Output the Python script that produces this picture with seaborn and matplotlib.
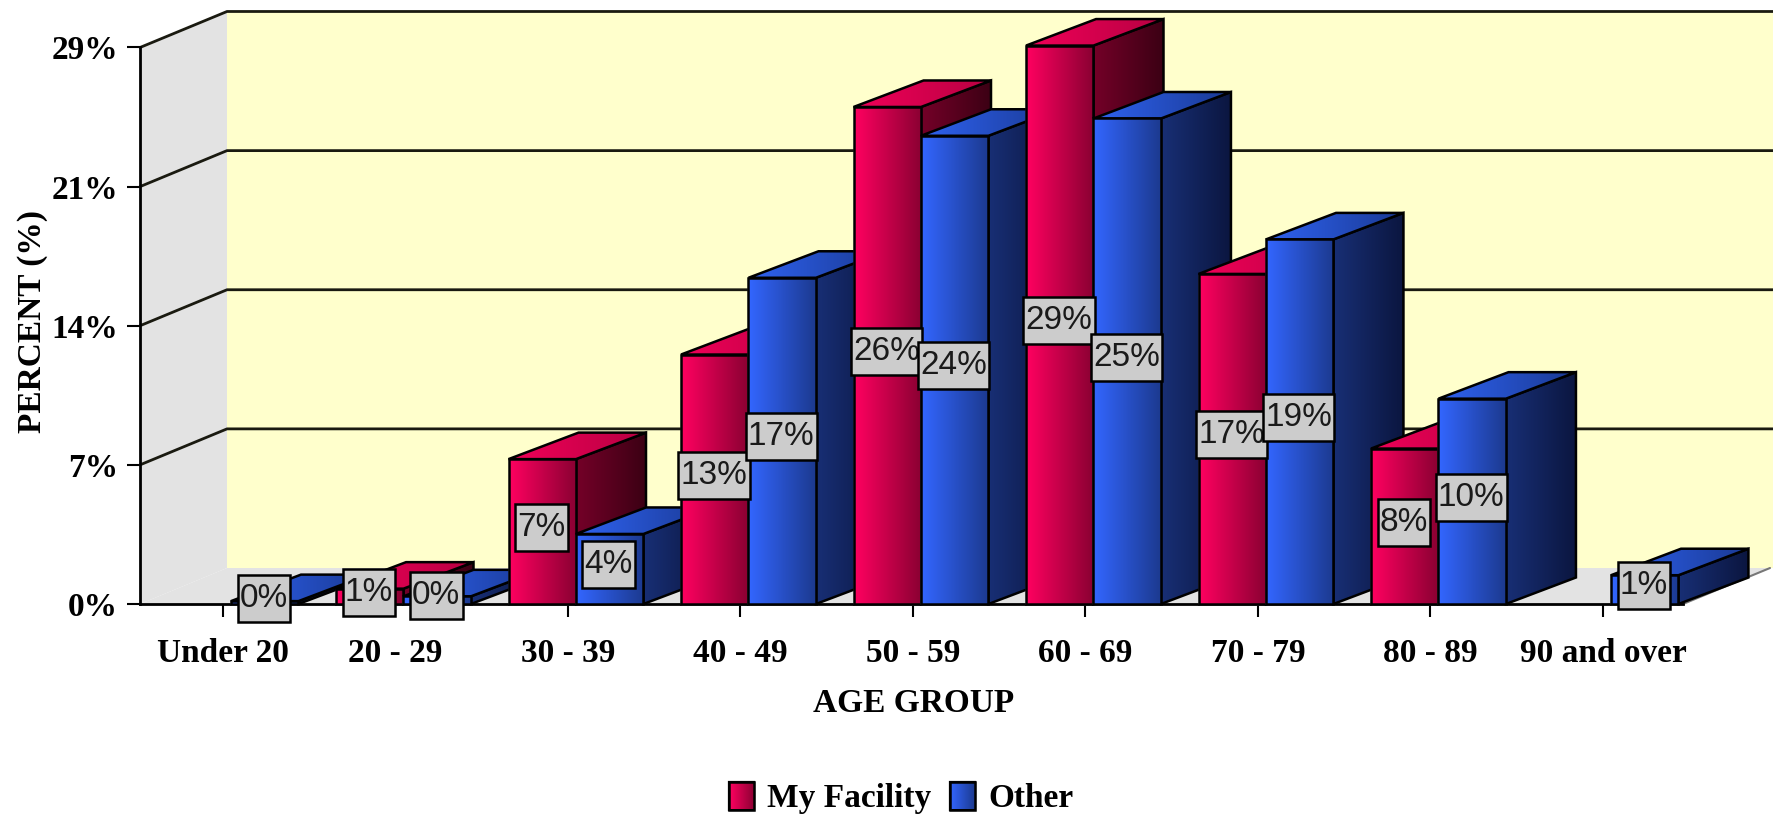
import numpy as np
import pandas as pd
import matplotlib
matplotlib.use('Agg')
import matplotlib.pyplot as plt
from matplotlib.colors import LinearSegmentedColormap
from matplotlib.patches import Patch, Polygon
from matplotlib.path import Path
import seaborn as sns

age_groups = ['Under 20', '20 - 29', '30 - 39', '40 - 49', '50 - 59',
              '60 - 69', '70 - 79', '80 - 89', '90 and over']
my_facility = [0.0, 0.8, 7.55, 13.0, 25.9, 29.1, 17.2, 8.1, 0.0]
other = [0.15, 0.4, 3.65, 17.0, 24.4, 25.3, 19.0, 10.7, 1.5]
my_labels = ['', '1%', '7%', '13%', '26%', '29%', '17%', '8%', '']
other_labels = ['0%', '0%', '4%', '17%', '24%', '25%', '19%', '10%', '1%']
y_ticks = [0, 7.25, 14.5, 21.75, 29]
y_tick_labels = ['0%', '7%', '14%', '21%', '29%']

# pixel layout of the picture, the axes fills the whole figure
W, H = 1774, 816
px_cat = 172.5     # one category
px_unit = 19.19    # one percent
x0_px = 231        # centre of first group
y0_px = 604        # zero line

# depth of walls and bars, in data units
wall_dx, wall_dy = 87 / px_cat, 36 / px_unit
bar_dx, bar_dy = 70 / px_cat, 26.5 / px_unit
left_x = (140 - x0_px) / px_cat
front_right = (1683 - x0_px) / px_cat
x_max = (W - x0_px) / px_cat

sns.set_theme(style='white')
plt.rcParams['font.family'] = ['Liberation Serif', 'DejaVu Serif']
plt.rcParams['text.color'] = 'black'
plt.rcParams['axes.labelcolor'] = 'black'
plt.rcParams['xtick.color'] = 'black'
plt.rcParams['ytick.color'] = 'black'

df = pd.DataFrame({
    'group': age_groups * 2,
    'percent': my_facility + other,
    'series': ['My Facility'] * 9 + ['Other'] * 9,
})

fig = plt.figure(figsize=(W / 100, H / 100), dpi=100)
ax = fig.add_axes([0, 0, 1, 1])
ax.patch.set_alpha(0)

sns.barplot(data=df, x='group', y='percent', hue='series', order=age_groups,
            palette=['#C00048', '#2848B0'], width=0.782, errorbar=None,
            legend=False, ax=ax)


def set_limits():
    ax.set_xlim(-x0_px / px_cat, x_max)
    ax.set_ylim(-(H - y0_px) / px_unit, y0_px / px_unit)


set_limits()


def grad_face(verts, c0, c1, z, lw=1.8):
    # polygon with a left to right gradient, black outline on top
    verts = np.array(verts)
    cmap = LinearSegmentedColormap.from_list('f', [c0, c1])
    outline = Polygon(verts, closed=True, fill=False, ec='black', lw=lw, zorder=z + 0.2)
    ax.add_patch(outline)
    im = ax.imshow(np.linspace(0, 1, 64).reshape(1, -1), cmap=cmap, aspect='auto',
                   extent=[verts[:, 0].min(), verts[:, 0].max(), verts[:, 1].min(), verts[:, 1].max()],
                   zorder=z + 0.1, interpolation='bilinear')
    im.set_clip_path(outline)


def label_box(x0, y0, width, height, mutation_size):
    # value boxes are taller than a plain text pad gives
    pad_x, pad_y = 2.2, 8
    x1, y1 = x0 + width + pad_x, y0 + height + pad_y
    x0, y0 = x0 - pad_x, y0 - pad_y
    return Path([(x0, y0), (x1, y0), (x1, y1), (x0, y1), (x0, y0)], closed=True)


# room: side wall, floor, back wall
wall_gray = '#E3E3E3'
ax.add_patch(Polygon([(left_x, 0), (left_x, y_ticks[-1]),
                      (left_x + wall_dx, y_ticks[-1] + wall_dy), (left_x + wall_dx, wall_dy)],
                     fc=wall_gray, ec='none', zorder=1))
ax.add_patch(Polygon([(left_x, 0), (left_x + wall_dx, wall_dy),
                      (x_max + 1, wall_dy), (front_right + wall_dx, wall_dy), (front_right, 0)],
                     fc=wall_gray, ec='none', zorder=1))
ax.add_patch(Polygon([(left_x + wall_dx, wall_dy), (left_x + wall_dx, y_ticks[-1] + wall_dy),
                      (x_max, y_ticks[-1] + wall_dy), (x_max, wall_dy)],
                     fc='#FFFFCC', ec='none', zorder=1.1))
ax.plot([front_right, front_right + wall_dx], [0, wall_dy], color='#777777', lw=1.5, zorder=1.4)

for t in y_ticks[1:]:
    ax.plot([left_x, left_x + wall_dx, x_max], [t, t + wall_dy, t + wall_dy],
            color='#1A1A10', lw=2, zorder=1.5)

# bars, left to right so later ones cover the sides of earlier ones
shades = [
    {'front': ('#FF0060', '#8A0032'), 'side': ('#740028', '#3C0014'), 'top': ('#F00058', '#B80042')},
    {'front': ('#3366FF', '#1C3A90'), 'side': ('#182F75', '#0B1640'), 'top': ('#2F62F0', '#1A3A95')},
]
items = []
for s, (bars, labels) in enumerate(zip(ax.containers, [my_labels, other_labels])):
    for p, lab in zip(bars, labels):
        items.append((p.get_x(), s, p, lab))
items.sort(key=lambda it: it[0])

for i, (x, s, p, lab) in enumerate(items):
    w, h = p.get_width(), p.get_height()
    z = 3 + i
    p.set_zorder(z)
    if h <= 0:
        p.set_visible(False)
        continue
    c = shades[s]
    grad_face([(x + w, 0), (x + w + bar_dx, bar_dy), (x + w + bar_dx, h + bar_dy), (x + w, h)],
              *c['side'], z + 0.2)
    grad_face([(x, h), (x + bar_dx, h + bar_dy), (x + w + bar_dx, h + bar_dy), (x + w, h)],
              *c['top'], z + 0.4)
    grad_face([(x, 0), (x, h), (x + w, h), (x + w, 0)], *c['front'], z + 0.6)
    if lab:
        ax.text(x + w / 2 - 0.005, h / 2 + 0.22, lab, family='Liberation Sans', fontsize=24,
                color='#1A1A1A', ha='center', va='center', zorder=100,
                bbox=dict(boxstyle=label_box, fc='#CCCCCC', ec='black', lw=1.8))

# axes
ax.spines['top'].set_visible(False)
ax.spines['right'].set_visible(False)
ax.spines['left'].set_position(('data', left_x))
ax.spines['bottom'].set_position(('data', 0))
ax.spines['left'].set_bounds(0, y_ticks[-1])
ax.spines['bottom'].set_bounds(left_x, front_right)
for side in ['left', 'bottom']:
    ax.spines[side].set_color('black')
    ax.spines[side].set_linewidth(2)
    ax.spines[side].set_zorder(2.5)

ax.set_yticks(y_ticks, y_tick_labels, fontweight='bold', fontsize=24)
ax.set_xticks(np.arange(9) - 8 / px_cat, age_groups, fontweight='bold', fontsize=24)
ax.tick_params(axis='both', length=9.7, width=1.5, color='black', direction='out',
               left=True, bottom=True)
ax.tick_params(axis='y', pad=6)
ax.tick_params(axis='x', pad=14.5)

ax.set_xlabel('AGE GROUP', fontweight='bold', fontsize=24)
ax.set_ylabel('PERCENT (%)', fontweight='bold', fontsize=24)
ax.xaxis.set_label_coords(914 / W, 1 - 703 / H)
ax.yaxis.set_label_coords(33 / W, 1 - 322 / H)
ax.xaxis.label.set_verticalalignment('center')
ax.yaxis.label.set_verticalalignment('center')

handles = [Patch(fc='#C00048', ec='black', lw=1.6, label='My Facility'),
           Patch(fc='#2848B0', ec='black', lw=1.6, label='Other')]
leg = ax.legend(handles=handles, ncol=2, frameon=False, loc='center',
                bbox_to_anchor=(901 / W, 1 - 798 / H), bbox_transform=fig.transFigure,
                prop={'family': 'Liberation Serif', 'weight': 'bold', 'size': 24},
                handlelength=0.75, handleheight=0.9, handletextpad=0.4, columnspacing=0.55,
                borderpad=0, borderaxespad=0)
set_limits()

# gradient on the legend swatches
fig.canvas.draw()
for s, h in enumerate(leg.legend_handles):
    bb = h.get_window_extent()
    (x1, y1), (x2, y2) = ax.transData.inverted().transform([(bb.x0, bb.y0), (bb.x1, bb.y1)])
    grad_face([(x1, y1), (x1, y2), (x2, y2), (x2, y1)], *shades[s]['front'], 200)

set_limits()
fig.savefig('out.png', dpi=100)
